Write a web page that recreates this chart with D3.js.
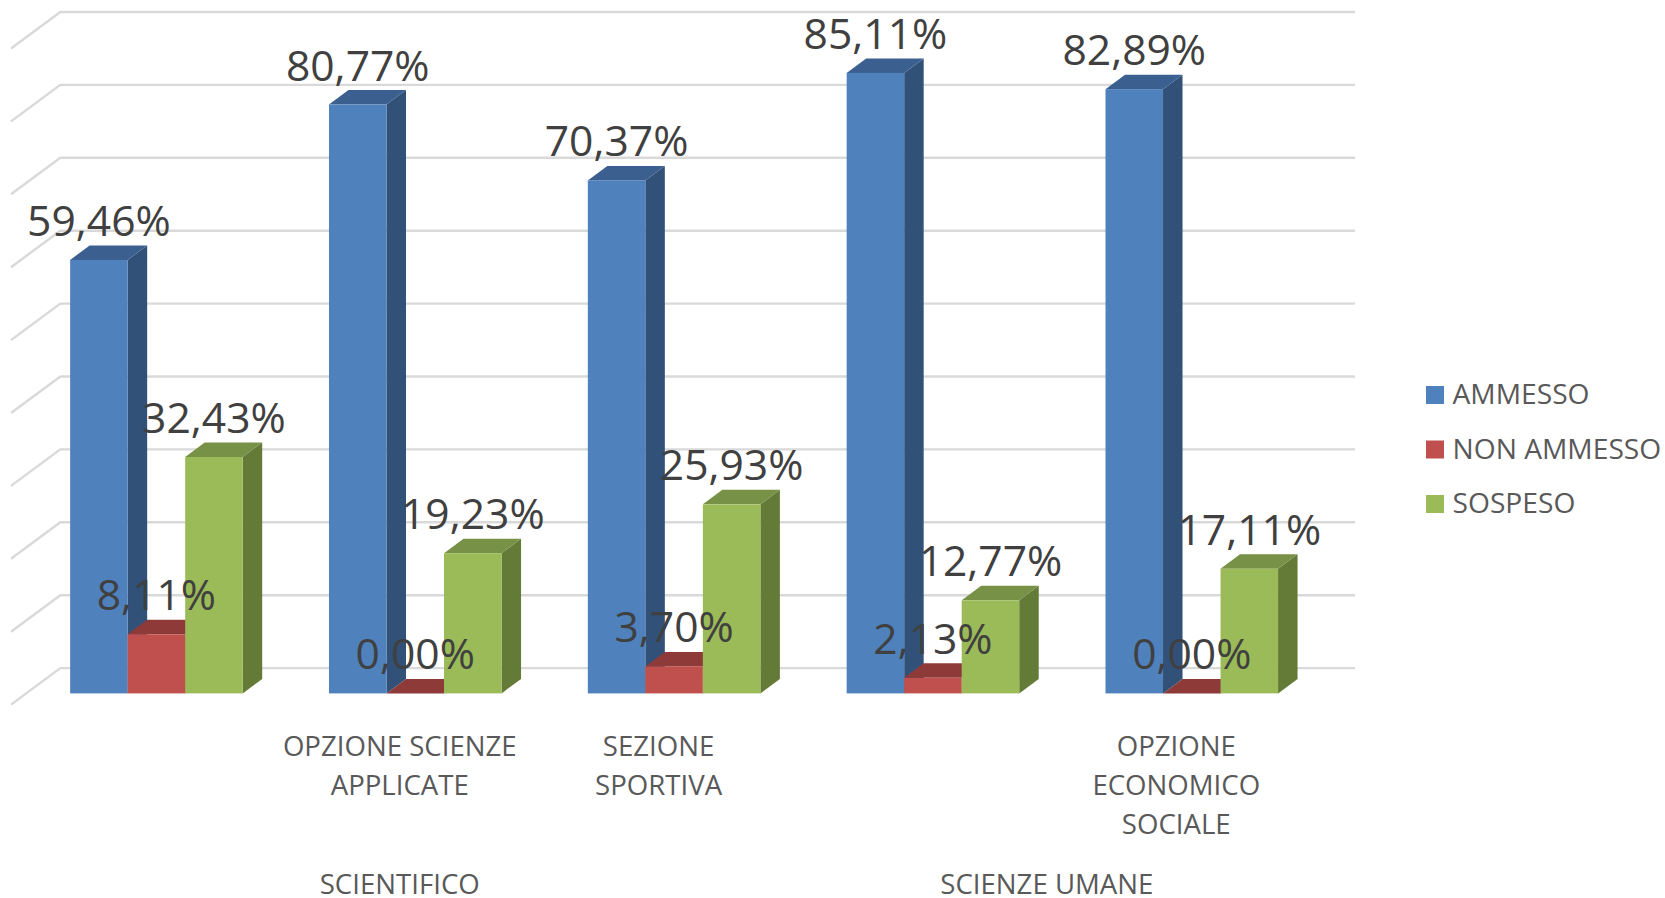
<!DOCTYPE html>
<html>
<head>
<meta charset="utf-8">
<title>Esiti scrutini</title>
<script src="https://cdn.jsdelivr.net/npm/d3@7"></script>
<style>
  html, body { margin: 0; padding: 0; background: #fff; overflow: hidden; }
  svg { display: block; }
  text { font-family: "Open Sans", sans-serif; }
  .grid line { stroke: #d9d9d9; stroke-width: 2.4; shape-rendering: auto; }
  .value { font-size: 42.6px; fill: #404040; text-anchor: middle; }
  .cat { font-size: 27.6px; fill: #595959; text-anchor: middle; }
  .legend-label { font-size: 28.2px; fill: #595959; }
</style>
</head>
<body>
<svg id="chart" width="1665" height="898"></svg>
<script>
const categories = [
  [""],
  ["OPZIONE SCIENZE", "APPLICATE"],
  ["SEZIONE", "SPORTIVA"],
  [""],
  ["OPZIONE", "ECONOMICO", "SOCIALE"]
]

const groups = [
  { name: "SCIENTIFICO", members: [1] },
  { name: "SCIENZE UMANE", members: [3, 4] }
]

const seriesNames = ["AMMESSO", "NON AMMESSO", "SOSPESO"]
const ammesso     = [59.46, 80.77, 70.37, 85.11, 82.89]
const nonAmmesso  = [8.11, 0, 3.70, 2.13, 0]
const sospeso     = [32.43, 19.23, 25.93, 12.77, 17.11]
const seriesValues = [ammesso, nonAmmesso, sospeso]

const faceColors = ["#4f81bd", "#c0504d", "#9bbb59"]
const sideColors = ["#325179", "#7b3331", "#647a37"]
const topColors  = ["#3b6090", "#8e3a38", "#779146"]

const gridTicks = [0, 10, 20, 30, 40, 50, 60, 70, 80, 90]

draw()

function draw () {
  const svg = d3.select("#chart")

  // bar depth and floor depth of the fake 3D box
  const depth = { x: 19.5, y: 14.5 }
  const wall  = { x: 50, y: 37, back: 25.8 }

  const y = d3.scaleLinear().domain([0, 90]).range([693.4, 37.3])

  const x0 = d3.scaleBand()
      .domain(d3.range(categories.length))
      .range([27, 1321.2])
      .paddingInner(1 / 3)
      .paddingOuter(1 / 6)

  const x1 = d3.scaleBand()
      .domain(d3.range(seriesNames.length))
      .range([0, x0.bandwidth()])

  //
  // Back wall gridlines + floor diagonals
  //
  const backLeft = 61, backRight = 1355

  const grid = svg.append("g")
      .attr("class", "grid")
      .attr("transform", `translate(${backLeft},${-wall.back})`)
      .call(d3.axisLeft(y).tickValues(gridTicks).tickSize(backLeft - backRight).tickFormat(""))

  grid.select(".domain").remove()

  svg.append("g")
      .attr("class", "grid")
    .selectAll("line")
    .data(gridTicks)
    .enter().append("line")
      .attr("x1", backLeft)
      .attr("y1", d => y(d) - wall.back)
      .attr("x2", backLeft - wall.x)
      .attr("y2", d => y(d) - wall.back + wall.y)

  //
  // Bars, series by series so the next bar hides the side of the previous one
  //
  const bars = svg.append("g")

  categories.forEach((cat, i) => {
    seriesValues.forEach((values, s) => {
      const left = x0(i) + x1(s)
      const right = left + x1.bandwidth()
      const top = y(values[i])
      const bottom = y(0)

      const g = bars.append("g")

      g.append("path")
          .attr("fill", sideColors[s])
          .attr("d", d3.line()([
            [right, top], [right + depth.x, top - depth.y],
            [right + depth.x, bottom - depth.y], [right, bottom]
          ]) + "Z")

      g.append("path")
          .attr("fill", topColors[s])
          .attr("d", d3.line()([
            [left, top], [left + depth.x, top - depth.y],
            [right + depth.x, top - depth.y], [right, top]
          ]) + "Z")

      g.append("rect")
          .attr("x", left)
          .attr("y", top)
          .attr("width", x1.bandwidth())
          .attr("height", bottom - top)
          .attr("fill", faceColors[s])
    })
  })

  //
  // Data labels
  //
  const fmt = v => v.toFixed(2).replace(".", ",") + "%"

  categories.forEach((cat, i) => {
    seriesValues.forEach((values, s) => {
      svg.append("text")
          .attr("class", "value")
          .attr("x", x0(i) + x1(s) + x1.bandwidth() / 2)
          .attr("y", y(values[i]) - 24)
          .text(fmt(values[i]))
    })
  })

  //
  // Category labels, shifted left of the bars like in the original
  //
  const labelX = i => x0(i) + x0.bandwidth() / 2 - 15.5

  categories.forEach((lines, i) => {
    const label = svg.append("text").attr("class", "cat")
    lines.forEach((line, n) => {
      label.append("tspan")
          .attr("x", labelX(i))
          .attr("y", 756 + n * 38.8)
          .text(line)
    })
  })

  groups.forEach(group => {
    svg.append("text")
        .attr("class", "cat")
        .attr("x", d3.mean(group.members, labelX))
        .attr("y", 894)
        .text(group.name)
  })

  //
  // Legend
  //
  const legendY = d3.scalePoint().domain(seriesNames).range([386, 495])

  const legend = svg.append("g")
    .selectAll("g")
    .data(seriesNames)
    .enter().append("g")

  legend.append("rect")
      .attr("x", 1426)
      .attr("y", d => legendY(d))
      .attr("width", 18)
      .attr("height", 18)
      .attr("fill", (d, i) => faceColors[i])

  legend.append("text")
      .attr("class", "legend-label")
      .attr("x", 1452.5)
      .attr("y", d => legendY(d) + 18)
      .text(d => d)
}
</script>
</body>
</html>
